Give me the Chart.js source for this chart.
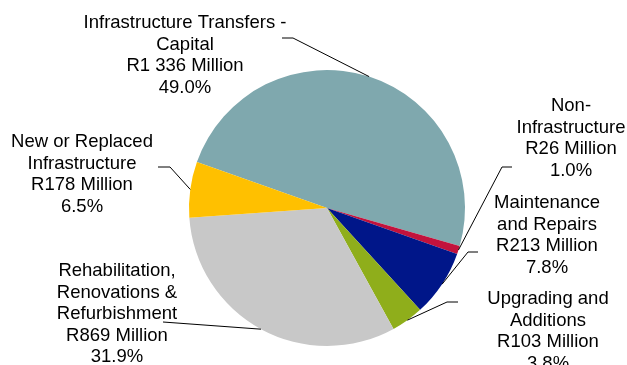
<!DOCTYPE html>
<html>
<head>
<meta charset="utf-8">
<script src="https://cdn.jsdelivr.net/npm/chart.js@4.4.1/dist/chart.umd.min.js"></script>
<style>
    html, body { margin: 0; padding: 0; background: #ffffff; }
    canvas { display: block; }
</style>
</head>
<body>
<canvas id="pieChart" width="627" height="365"></canvas>
<script>
// Capital budget split (R million)
const categories = [
    ['Infrastructure Transfers -', 'Capital'],
    ['Non-', 'Infrastructure'],
    ['Maintenance', 'and Repairs'],
    ['Upgrading and', 'Additions'],
    ['Rehabilitation,', 'Renovations &', 'Refurbishment'],
    ['New or Replaced', 'Infrastructure']
];
const amounts = [1336, 26, 213, 103, 869, 178];
const sliceColors = ['#7fa8ae', '#c2123c', '#001689', '#8fae1b', '#c8c8c8', '#ffc000'];

// Where each label block sits and where its leader line bends
const labelLayout = [
    { x: 185, y: 23,  line: [[282, 38], [293, 38]] },
    { x: 571, y: 106, line: [[512, 167], [502, 167]] },
    { x: 547, y: 203, line: [[478, 252], [468, 252]] },
    { x: 548, y: 299, line: [[458, 302], [447, 302]] },
    { x: 117, y: 271, line: [[163, 322]] },
    { x: 82,  y: 142, line: [[158, 167], [170, 167]] }
];

const total = amounts.reduce((a, b) => a + b, 0);

function formatRand(v) {
    return 'R' + String(v).replace(/\B(?=(\d{3})+(?!\d))/g, ' ') + ' Million';
}

const pieLabels = {
    id: 'pieLabels',
    afterDraw(chart) {
        const ctx = chart.ctx;
        const arcs = chart.getDatasetMeta(0).data;
        ctx.save();

        // leader lines from the bend points to the middle of each slice's rim
        ctx.strokeStyle = '#000000';
        ctx.lineWidth = 1;
        arcs.forEach((arc, i) => {
            const mid = (arc.startAngle + arc.endAngle) / 2;
            const px = arc.x + Math.cos(mid) * arc.outerRadius;
            const py = arc.y + Math.sin(mid) * arc.outerRadius;
            const pts = labelLayout[i].line;
            ctx.beginPath();
            ctx.moveTo(pts[0][0], pts[0][1]);
            for (let k = 1; k < pts.length; k++) ctx.lineTo(pts[k][0], pts[k][1]);
            ctx.lineTo(px, py);
            ctx.stroke();
        });

        // label text blocks
        ctx.fillStyle = '#000000';
        ctx.font = '18.5px "Liberation Sans", Arial, sans-serif';
        ctx.textAlign = 'center';
        ctx.textBaseline = 'middle';
        categories.forEach((name, i) => {
            const lines = name.concat([
                formatRand(amounts[i]),
                (amounts[i] / total * 100).toFixed(1) + '%'
            ]);
            const pos = labelLayout[i];
            lines.forEach((t, k) => {
                ctx.fillText(t, pos.x, pos.y + k * 21.5);
            });
        });
        ctx.restore();
    }
};

new Chart(document.getElementById('pieChart'), {
    type: 'pie',
    data: {
        labels: categories,
        datasets: [{
            data: amounts,
            backgroundColor: sliceColors,
            borderWidth: 0
        }]
    },
    options: {
        responsive: false,
        animation: false,
        rotation: 289.5,
        layout: {
            padding: { left: 189, right: 162, top: 70, bottom: 19 }
        },
        plugins: {
            legend: { display: false },
            tooltip: { enabled: false }
        }
    },
    plugins: [pieLabels]
});
</script>
</body>
</html>
